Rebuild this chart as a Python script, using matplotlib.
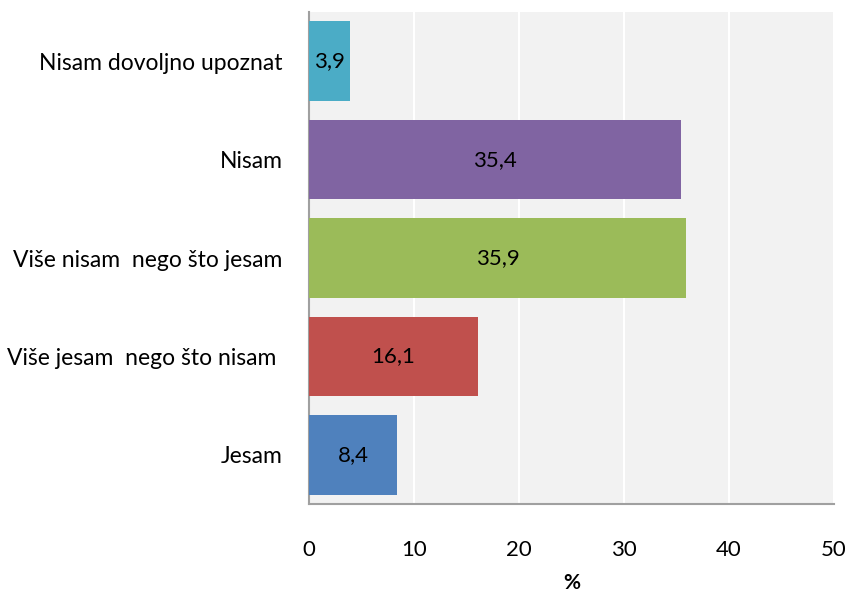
import matplotlib
matplotlib.use("Agg")
import matplotlib.pyplot as plt

# categories bottom -> top
categories = ["Jesam", "Više jesam  nego što nisam ", "Više nisam  nego što jesam",
              "Nisam", "Nisam dovoljno upoznat"]
values = [8.4, 16.1, 35.9, 35.4, 3.9]
colors = ["#4F81BD", "#C0504D", "#9BBB59", "#8064A2", "#4BACC6"]
xticks = [0, 10, 20, 30, 40, 50]

plt.rcParams["font.family"] = ["Lato", "DejaVu Sans"]

fig = plt.figure(figsize=(8.48, 5.91), dpi=100)
ax = fig.add_axes([0.3644, 0.1472, 0.9835 - 0.3644, 0.9797 - 0.1472])
ax.set_facecolor("#F2F2F2")

ypos = list(range(len(categories)))
bars = ax.barh(ypos, values, height=0.81, color=colors, zorder=3)
for b, v in zip(bars, values):
    ax.text(b.get_x() + b.get_width() / 2, b.get_y() + b.get_height() / 2,
            f"{v:.1f}".replace(".", ","), ha="center", va="center",
            fontsize=16, color="black", zorder=4)

ax.set_xlim(0, 50)
ax.set_ylim(-0.5, len(categories) - 0.5)
ax.set_xticks(xticks)
ax.set_xticklabels([str(t) for t in xticks], fontsize=16)
ax.set_yticks(ypos)
ax.set_yticklabels(categories, fontsize=16.5)
ax.tick_params(axis="x", length=0, pad=26)
ax.tick_params(axis="y", length=0, pad=19)
ax.grid(axis="x", color="white", linewidth=1.5, zorder=1)
ax.set_axisbelow(True)

for s in ["top", "right"]:
    ax.spines[s].set_visible(False)
for s in ["left", "bottom"]:
    ax.spines[s].set_color("#A0A0A0")
    ax.spines[s].set_linewidth(1.5)

ax.set_xlabel("%", fontsize=15, fontweight="bold", labelpad=9)

fig.savefig("out.png", dpi=100)
